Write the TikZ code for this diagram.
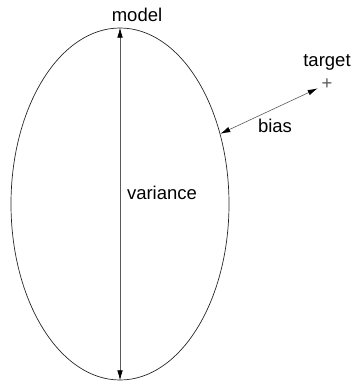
\documentclass[tikz,border=0pt]{standalone}
\usepackage{fontspec}
\setmainfont{Liberation Sans}
\usetikzlibrary{shapes.geometric, arrows.meta, positioning}
\definecolor{colLine}{RGB}{90,90,90}
\tikzset{
    blob/.style={ellipse, draw=black!85, line width=0.7pt, minimum width=218pt, minimum height=352pt, inner sep=0pt},
    lbl/.style={font=\fontsize{18.5}{22}\selectfont, inner sep=1pt},
    arrow/.style={{Latex[length=10pt,width=5.5pt,color=black]}-{Latex[length=10pt,width=5.5pt,color=black]}, draw=colLine, line width=0.6pt}
}

\begin{document}
\begin{tikzpicture}[x=1pt, y=-1pt, node distance=4pt]
    \useasboundingbox (0,0) rectangle (357,382);

    \node[blob] (model) at (120,204) {};
    \node[lbl] (modellbl) at (137,15) {model};
    \node[lbl] (varlbl) at (162,193) {variance};

    \node[lbl, text=colLine] (tgt) at (327,84) {+};
    \node[lbl, above=6pt of tgt] (tgtlbl) {target};
    \node[lbl] (biaslbl) at (275,126) {bias};

    \draw[arrow] (model.north) -- (model.south);
    \draw[arrow, shorten >=3pt] (model.35) -- (tgt);

\end{tikzpicture}
\end{document}
